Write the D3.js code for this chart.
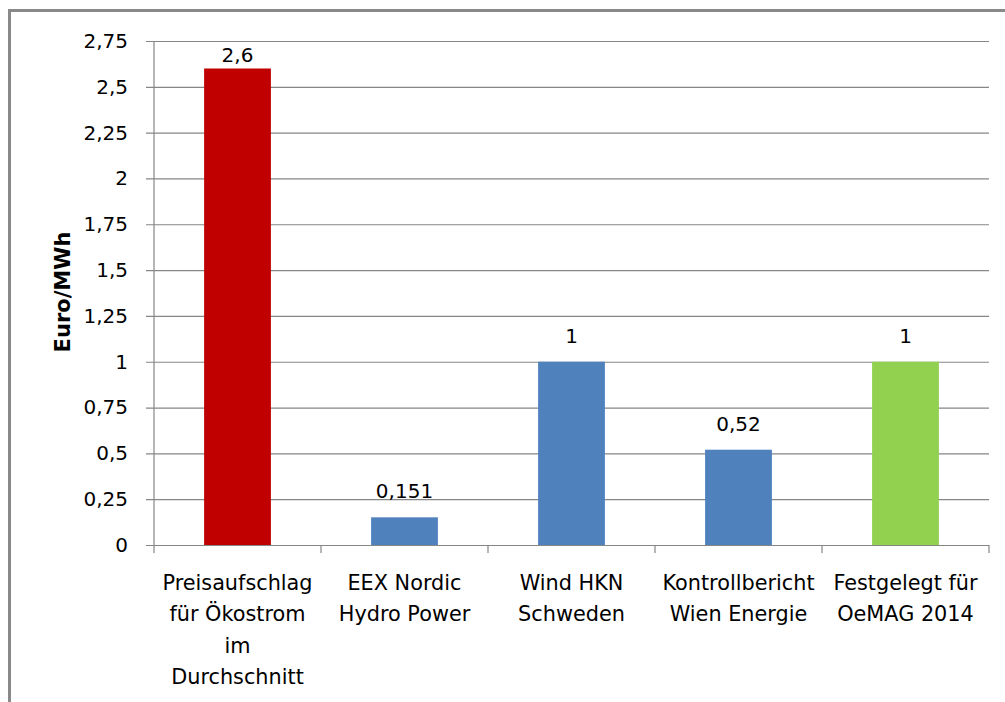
<!DOCTYPE html>
<html>
<head>
<meta charset="utf-8">
<script src="https://cdn.jsdelivr.net/npm/d3@7"></script>
<style>
  body { margin: 0; background: #fff; }
  text { font-family: "DejaVu Sans", sans-serif; fill: #000; }
</style>
</head>
<body>
<div id="datavis"></div>
<script>
// data
let categories = [
  ["Preisaufschlag", "für Ökostrom", "im", "Durchschnitt"],
  ["EEX Nordic", "Hydro Power"],
  ["Wind HKN", "Schweden"],
  ["Kontrollbericht", "Wien Energie"],
  ["Festgelegt für", "OeMAG 2014"]
]
let values = [2.6, 0.151, 1, 0.52, 1]
let valueLabels = ["2,6", "0,151", "1", "0,52", "1"]
let barColors = ["#C00000", "#4F81BD", "#4F81BD", "#4F81BD", "#92D050"]
let yTicks = [0, 0.25, 0.5, 0.75, 1, 1.25, 1.5, 1.75, 2, 2.25, 2.5, 2.75]

let width = 1005
    height = 702
    margin = {top: 41, right: 16, bottom: 157, left: 154}

let svg = d3.select('#datavis')
  .append('svg')
    .attr('width', width)
    .attr('height', height)

// chart frame
svg.append('rect')
  .attr('x', 9.5).attr('y', 10.5)
  .attr('width', 1100).attr('height', 800)
  .attr('fill', 'none')
  .attr('stroke', '#898989')
  .attr('stroke-width', 3)

let g = svg.append('g')
  .attr('transform', `translate(${margin.left},${margin.top})`)

let w = width - margin.left - margin.right
let h = height - margin.top - margin.bottom

let x = d3.scaleBand()
  .domain(d3.range(categories.length))
  .range([0, w])
  .paddingInner(0.6)
  .paddingOuter(0.3)

let y = d3.scaleLinear()
  .domain([0, 2.75])
  .range([h, 0])

let fmt = d => String(d).replace('.', ',')

// gridlines + y tick labels
let yAxis = g.append('g')
  .call(d3.axisLeft(y).tickValues(yTicks).tickSize(-w - 8).tickPadding(18).tickFormat(fmt))
  .attr('transform', 'translate(-8,0)')
yAxis.select('.domain').remove()
yAxis.selectAll('line').attr('stroke', '#868686').attr('stroke-width', 1.2)
yAxis.selectAll('text')
  .attr('x', -18)
  .style('font-size', '20px')
  .style('font-family', '"DejaVu Sans", sans-serif')
  .attr('fill', '#000')

// y axis line
g.append('line')
  .attr('x1', 0).attr('x2', 0).attr('y1', 0).attr('y2', h)
  .attr('stroke', '#868686').attr('stroke-width', 1.2)

// category ticks
let xb = d3.scaleLinear().domain([0, categories.length]).range([0, w])
g.selectAll('catTicks')
  .data(d3.range(categories.length + 1))
  .enter()
  .append('line')
    .attr('x1', d => xb(d)).attr('x2', d => xb(d))
    .attr('y1', h).attr('y2', h + 8)
    .attr('stroke', '#868686').attr('stroke-width', 1.2)

// bars
g.selectAll('bars')
  .data(values)
  .enter()
  .append('rect')
    .attr('x', (d, i) => x(i))
    .attr('width', x.bandwidth())
    .attr('y', d => y(d))
    .attr('height', d => h - y(d))
    .attr('fill', (d, i) => barColors[i])

// value labels (Excel keeps the top one inside the plot)
g.selectAll('valueLabels')
  .data(values)
  .enter()
  .append('text')
    .attr('x', (d, i) => x(i) + x.bandwidth() / 2)
    .attr('y', d => Math.max(y(d) - 19, 21))
    .attr('text-anchor', 'middle')
    .style('font-size', '20px')
    .text((d, i) => valueLabels[i])

// category labels
let catLabels = g.selectAll('catLabels')
  .data(categories)
  .enter()
  .append('text')
    .attr('text-anchor', 'middle')
    .attr('transform', (d, i) => `translate(${x(i) + x.bandwidth() / 2},${h + 45})`)
    .style('font-size', '20.8px')
catLabels.selectAll('tspan')
  .data(d => d)
  .enter()
  .append('tspan')
    .attr('x', 0)
    .attr('y', (d, i) => i * 31.3)
    .text(d => d)

// y axis title
svg.append('text')
  .attr('transform', 'translate(70,292) rotate(-90)')
  .attr('text-anchor', 'middle')
  .style('font-size', '21px')
  .style('font-weight', 'bold')
  .text('Euro/MWh')
</script>
</body>
</html>
